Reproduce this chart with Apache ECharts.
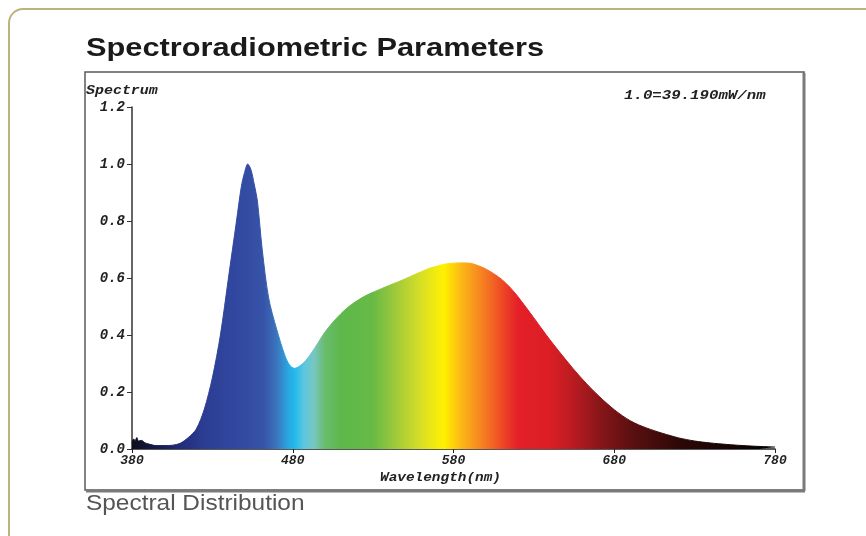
<!DOCTYPE html>
<html>
<head>
<meta charset="utf-8">
<script src="https://cdn.jsdelivr.net/npm/echarts@6/dist/echarts.min.js"></script>
<style>
html,body{margin:0;padding:0;background:#fff;}
#chart{width:866px;height:536px;}
</style>
</head>
<body>
<div id="chart"></div>
<script>
// ---- Data ----
const wavelengths = [380,381,382,383,384,386,388,390,395,400,405,410,415,420,425,430,435,440,445,448,450,452,454,456,458,461,465,470,475,478,481,484,488,492,496,500,505,510,515,520,525,530,540,545,550,555,560,565,570,575,580,585,590,595,600,605,610,615,620,625,630,635,640,645,650,655,660,665,670,675,680,685,690,695,700,705,710,720,730,740,750,760,770,780];
const spectrum    = [0.02,0.035,0.03,0.04,0.028,0.03,0.022,0.018,0.012,0.012,0.013,0.02,0.04,0.07,0.14,0.25,0.40,0.60,0.80,0.92,0.97,1.0,0.98,0.93,0.87,0.70,0.53,0.42,0.33,0.295,0.283,0.29,0.31,0.34,0.375,0.41,0.445,0.475,0.50,0.52,0.537,0.55,0.574,0.585,0.597,0.61,0.622,0.634,0.642,0.649,0.652,0.653,0.652,0.644,0.632,0.615,0.595,0.568,0.535,0.498,0.46,0.421,0.383,0.347,0.312,0.278,0.246,0.216,0.188,0.162,0.138,0.117,0.099,0.085,0.074,0.064,0.055,0.039,0.028,0.021,0.016,0.012,0.009,0.007];
const xTicks = [380,480,580,680,780];
const yTicks = [0.0,0.2,0.4,0.6,0.8,1.0,1.2];

const titleText = 'Spectroradiometric Parameters';
const subtitleText = 'Spectral Distribution';
const yName = 'Spectrum';
const xName = 'Wavelength(nm)';
const noteText = '1.0=39.190mW/nm';

// spectral colour stops: [wavelength, colour]
const colorStops = [
  [380,'#0d0d1c'],[395,'#161a4a'],[410,'#222c7a'],[425,'#2b3d93'],[445,'#3248a0'],[462,'#3654a8'],
  [470,'#3b74bd'],[477,'#2aa6e0'],[481,'#22b8ec'],[487,'#5cc6e0'],[493,'#78c6c4'],[500,'#69bc6c'],
  [510,'#5db84b'],[530,'#68ba45'],[545,'#a3cb39'],[560,'#d9df26'],[574,'#fff100'],[586,'#fbb217'],
  [598,'#f68121'],[610,'#ee4a25'],[620,'#e41f28'],[640,'#dc1e25'],[655,'#b81b21'],[670,'#8b1619'],
  [690,'#5c1011'],[720,'#2e0808'],[780,'#000000']
];

const wMin = 380, wMax = 780;
const gradStops = colorStops.map(s => ({offset:(s[0]-wMin)/(wMax-wMin), color:s[1]}));
const seriesData = wavelengths.map((w,i)=>[w, spectrum[i]]);

const monoFont = '"Liberation Mono","DejaVu Sans Mono",monospace';

const chart = echarts.init(document.getElementById('chart'), null, {renderer:'canvas'});
chart.setOption({
  animation:false,
  backgroundColor:'#ffffff',
  grid:{left:132, right:91, top:107, bottom:87},
  xAxis:{
    type:'value', min:wMin, max:wMax, interval:100,
    axisLine:{show:true, onZero:false, lineStyle:{color:'#222', width:1.5}},
    axisTick:{show:true, length:4, lineStyle:{color:'#222'}},
    axisLabel:{color:'#222', fontFamily:monoFont, fontStyle:'italic', fontWeight:'bold', fontSize:13, margin:5,
      formatter:v=> xTicks.includes(v) ? String(v) : ''},
    splitLine:{show:false}
  },
  yAxis:{
    type:'value', min:0, max:1.2, interval:0.2,
    axisLine:{show:true, lineStyle:{color:'#333', width:1.5}},
    axisTick:{show:true, length:5, lineStyle:{color:'#333'}},
    axisLabel:{color:'#222', fontFamily:monoFont, fontStyle:'italic', fontWeight:'bold', fontSize:14, margin:7,
      formatter:v=>{const t=yTicks.find(y=>Math.abs(y-v)<1e-6); return t===undefined?'':t.toFixed(1);}},
    splitLine:{show:false}
  },
  series:[{
    type:'line', data:seriesData, smooth:0.3, showSymbol:false, symbol:'none',
    lineStyle:{width:1, color:new echarts.graphic.LinearGradient(0,0,1,0,gradStops)},
    areaStyle:{opacity:1, color:new echarts.graphic.LinearGradient(0,0,1,0,gradStops)}
  }],
  graphic:[
    {type:'rect', x:9, y:9, shape:{width:900, height:600, r:14}, style:{fill:'none', stroke:'#bab47c', lineWidth:2}, silent:true, z:-10},
    {type:'rect', x:85, y:72, shape:{width:719, height:418}, style:{fill:'none', stroke:'#5a5a5a', lineWidth:1.5}, silent:true},
    {type:'line', shape:{x1:804, y1:73, x2:804, y2:491}, style:{stroke:'#7a7a7a', lineWidth:3}, silent:true},
    {type:'line', shape:{x1:86, y1:491, x2:805, y2:491}, style:{stroke:'#7a7a7a', lineWidth:3}, silent:true},
    {type:'text', x:86, y:37, scaleX:1.23, originX:0, originY:0,
      style:{text:titleText, font:'bold 25px "Liberation Sans", Arial, sans-serif', fill:'#1a1a1a', textVerticalAlign:'top'}},
    {type:'text', x:86, y:493, scaleX:1.11, originX:0, originY:0,
      style:{text:subtitleText, font:'22px "Liberation Sans", Arial, sans-serif', fill:'#555555', textVerticalAlign:'top'}},
    {type:'text', x:86, y:84, scaleX:1.15, originX:0, originY:0,
      style:{text:yName, font:'italic bold 13px '+monoFont, fill:'#222', textVerticalAlign:'top'}},
    {type:'text', x:624, y:89, scaleX:1.21, originX:0, originY:0,
      style:{text:noteText, font:'italic bold 13px '+monoFont, fill:'#222', textVerticalAlign:'top'}},
    {type:'text', x:380, y:472, scaleX:1.2, originX:0, originY:0,
      style:{text:xName, font:'italic bold 12px '+monoFont, fill:'#222', textVerticalAlign:'top'}}
  ]
});
</script>
</body>
</html>
